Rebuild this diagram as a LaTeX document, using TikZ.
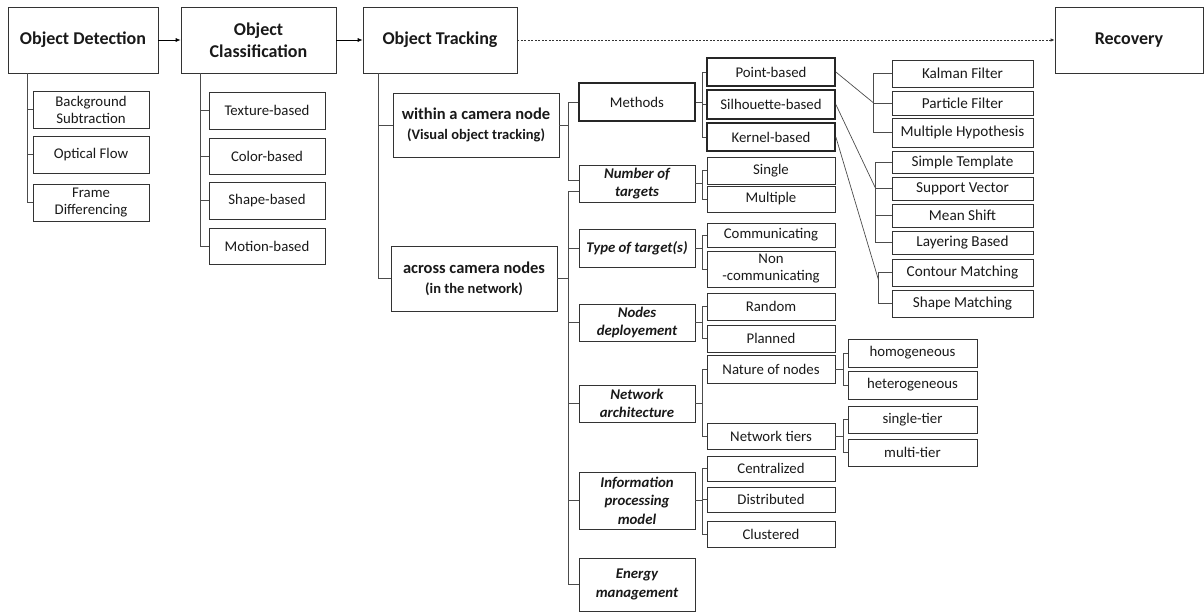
\documentclass[tikz,border=0pt]{standalone}
\usepackage{fontspec}
\setmainfont{Carlito}
\usetikzlibrary{arrows.meta}
\begin{document}
\begin{tikzpicture}[x=1pt,y=-1pt,
  box/.style={draw=black!80,line width=0.7pt,inner sep=1pt,align=center,text=black!90},
  stage/.style={box,minimum width=#1,minimum height=66pt,font=\fontsize{18}{22}\selectfont\bfseries},
  lf/.style 2 args={box,minimum width=#1pt,minimum height=#2pt,font=\fontsize{14.8}{17}\selectfont},
  rt/.style={lf={141}{#1},font=\fontsize{15.2}{17}\selectfont},
  cat/.style={lf={116}{#1},font=\fontsize{14.8}{18.5}\selectfont\bfseries\itshape},
  heavy/.style={line width=1.7pt,draw=black!85},
  link/.style={draw=black!70,line width=0.7pt}]
\useasboundingbox (0,0) rectangle (1204,612);

\node[stage=150pt] (det) at (83,40) {Object Detection};
\node[stage=155pt] (cls) at (258.5,40) {Object\\Classification};
\node[stage=154pt] (trk) at (440,40) {Object Tracking};
\node[stage=148pt] (rec) at (1129,40) {Recovery};
\draw[link,draw=black,-{Latex[length=5pt,width=4pt]}] (det) -- (cls);
\draw[link,draw=black,-{Latex[length=5pt,width=4pt]}] (cls) -- (trk);
\draw[link,draw=black!80,line width=0.8pt,dash pattern=on 2pt off 1.5pt,-{Latex[length=4pt,width=3.5pt]}] (trk) -- (rec);

\node[lf={116}{37}] (bgs) at (91,109.5) {Background\\Subtraction};
\node[lf={116}{37}] (ofl) at (91,154.5) {Optical Flow};
\node[lf={116}{37}] (fdf) at (91,202.5) {Frame\\Differencing};
\coordinate (tD) at (27,0);
\draw[link] (det.south -| tD) |- (fdf.west);
\foreach \n in {bgs,ofl} \draw[link] (tD |- \n.west) -- (\n.west);

\node[lf={116}{37}] (tex) at (267,110.5) {Texture-based};
\node[lf={116}{36}] (col) at (267,156) {Color-based};
\node[lf={116}{37}] (shp) at (267,200.5) {Shape-based};
\node[lf={116}{36}] (mot) at (267,246) {Motion-based};
\coordinate (tC) at (200,0);
\draw[link] (cls.south -| tC) |- (mot.west);
\foreach \n in {tex,col,shp} \draw[link] (tC |- \n.west) -- (\n.west);

\node[box,minimum width=166pt,minimum height=64pt,font=\fontsize{14.5}{20}\selectfont\bfseries] (win) at (476,125)
  {{\fontsize{16.5}{20}\selectfont within a camera node}\\(Visual object tracking)};
\node[box,minimum width=166pt,minimum height=65pt,font=\fontsize{14.5}{20}\selectfont\bfseries] (acr) at (474,278.5)
  {{\fontsize{16.5}{20}\selectfont across camera nodes}\\(in the network)};
\coordinate (tT) at (378,0);
\draw[link] (trk.south -| tT) |- (acr.west);
\draw[link] (tT |- win.west) -- (win.west);

\node[lf={116}{38},heavy] (mth) at (637,102) {Methods};
\node[cat=37] (num) at (637,183.5) {Number of\\targets};
\node[cat=38] (typ) at (637,248) {Type of target(s)};
\node[cat=37] (dep) at (637,322.5) {Nodes\\deployement};
\node[cat=37] (arc) at (637,403.5) {Network\\architecture};
\node[cat=57] (inf) at (637,500.5) {Information\\processing\\model};
\node[cat=53] (eng) at (637,584.5) {Energy\\management};
\coordinate (tW) at (568,0);
\coordinate (numA) at ([yshift=3.5pt]num.west);
\coordinate (numB) at ([yshift=-7.5pt]num.west);
\draw[link] (win.east) -- (win.east -| tW);
\draw[link] (mth.west) -| (tW |- numA) -- (numA);
\draw[link] (acr.east) -- (acr.east -| tW);
\draw[link] (numB) -| (tW |- eng.west) -- (eng.west);
\foreach \n in {typ,dep,arc,inf} \draw[link] (tW |- \n.west) -- (\n.west);

\node[lf={128}{28},heavy] (pnt) at (771,72) {Point-based};
\node[lf={128}{29},heavy] (sil) at (771,104.5) {Silhouette-based};
\node[lf={128}{28},heavy] (ker) at (771,137) {Kernel-based};
\node[lf={128}{27}] (sgl) at (771,170.5) {Single};
\node[lf={128}{26}] (mul) at (771,199) {Multiple};
\node[lf={128}{24}] (com) at (771,235) {Communicating};
\node[lf={128}{36}] (ncm) at (771,269) {Non\\-communicating};
\node[lf={128}{27}] (rnd) at (771,306.5) {Random};
\node[lf={128}{27}] (pln) at (771,338.5) {Planned};
\node[lf={128}{28}] (nat) at (771,369) {Nature of nodes};
\node[lf={128}{26}] (tie) at (771,436) {Network tiers};
\node[lf={128}{25}] (cen) at (771,468.5) {Centralized};
\node[lf={128}{25}] (dis) at (771,499.5) {Distributed};
\node[lf={128}{26}] (clu) at (771,534) {Clustered};
\coordinate (t3) at (702,0);
\foreach \p/\a/\b in {mth/pnt/ker,num/sgl/mul,typ/com/ncm,dep/rnd/pln,arc/nat/tie,inf/cen/clu} {
  \draw[link] (\p.east) -- (\p.east -| t3);
  \draw[link] (\a.west) -| (t3 |- \b.west) -- (\b.west);
}
\foreach \n in {sil,dis} \draw[link] (t3 |- \n.west) -- (\n.west);

\node[lf={129}{28}] (hom) at (912.5,353) {homogeneous};
\node[lf={129}{28}] (het) at (912.5,385) {heterogeneous};
\node[lf={129}{27}] (sgt) at (912.5,419.5) {single-tier};
\node[lf={129}{27}] (mlt) at (912.5,452.5) {multi-tier};
\coordinate (t4) at (843,0);
\foreach \p/\a/\b in {nat/hom/het,tie/sgt/mlt} {
  \draw[link] (\p.east) -- (\p.east -| t4);
  \draw[link] (\a.west) -| (t4 |- \b.west) -- (\b.west);
}

\node[rt=27] (kal) at (962.5,73.5) {Kalman Filter};
\node[rt=24] (par) at (962.5,103) {Particle Filter};
\node[rt=29] (mhy) at (962.5,132.5) {Multiple Hypothesis};
\node[rt=22] (smp) at (962.5,162) {Simple Template};
\node[rt=23] (svm) at (962.5,188.5) {Support Vector};
\node[rt=23] (msh) at (962.5,215.5) {Mean Shift};
\node[rt=23] (lay) at (962.5,242.5) {Layering Based};
\node[rt=27] (cnt) at (962.5,272.5) {Contour Matching};
\node[rt=27] (shm) at (962.5,303.5) {Shape Matching};
\coordinate (jk) at ([xshift=-18pt]par.west);
\coordinate (js) at ([xshift=-16pt]svm.west);
\coordinate (jr) at ([xshift=-13pt,yshift=-8pt]cnt.west);
\draw[link] (pnt.east) -- (jk);
\draw[link] (kal.west) -| (jk) |- (mhy.west);
\draw[link] (jk) -- (par.west);
\draw[link] (sil.east) -- (js);
\draw[link] (smp.west) -| (js) |- (lay.west);
\foreach \n in {svm,msh} \draw[link] (js |- \n.west) -- (\n.west);
\draw[link] (ker.east) -- (jr);
\draw[link] (cnt.west) -| (jr) |- (shm.west);
\end{tikzpicture}
\end{document}
